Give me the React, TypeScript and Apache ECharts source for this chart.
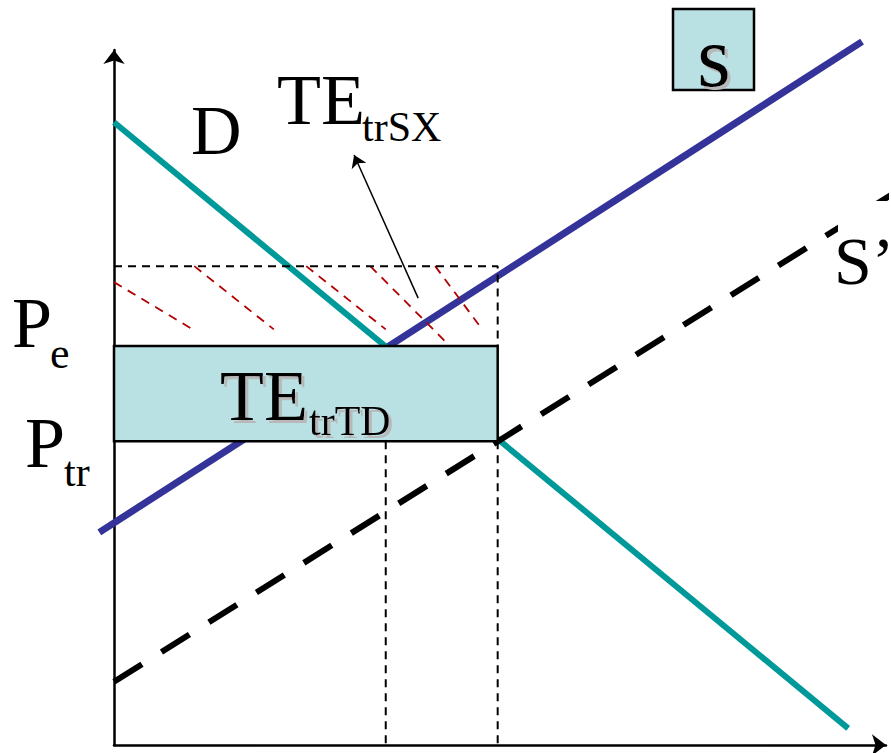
import React, { useEffect, useRef } from "react";
import * as echarts from "echarts";

// Curves (quantity 0-100 on x, price 0-100 on y)
const demandLine = [[0, 89.6], [95.1, 2.4]];
const supplyLine = [[-1.9, 30.6], [96.9, 101.2]];
const supplyShifted = [[0, 9.1], [100.6, 79.1]];
// Key levels
const qEquilibrium = 35.2;
const qTrade = 49.7;
const pEquilibrium = 57.4;
const pTrade = 43.7;
const pTop = 68.9;
// Hatching of the TE_trSX area
const hatchSegments = [
  [[0, 66.6], [10.2, 59.8]],
  [[10.4, 68.9], [20.7, 59.8]],
  [[24.9, 68.9], [35.2, 59.8]],
  [[33.2, 68.9], [43.5, 57.4]],
  [[41.6, 68.9], [47.7, 59.8]],
];
const arrowFrom = [39.4, 64.3];
const arrowTo = [31.1, 84.9];

const serif = "'Liberation Serif', 'Times New Roman', serif";
const boxFill = "#b9e0e3";

function txt(text: string, x: number, y: number, size: number, extra: any = {}) {
  return {
    type: "text",
    z: 100,
    style: {
      text,
      x,
      y,
      fontSize: size,
      fontFamily: serif,
      fill: "#000",
      align: "left",
      verticalAlign: "middle",
      ...extra,
    },
  };
}

const shadow = { textShadowColor: "#b8b8b8", textShadowOffsetX: 3, textShadowOffsetY: 3, textShadowBlur: 0.01 };

export default function App() {
  const ref = useRef<HTMLDivElement>(null);
  useEffect(() => {
    if (!ref.current) return;
    const chart = echarts.init(ref.current, null, { renderer: "svg" });
    const dashedGuide = (data: number[][]) => ({
      type: "line",
      data,
      symbol: "none",
      silent: true,
      z: 6,
      lineStyle: { color: "#000", width: 2, type: [8, 6] },
    });
    const option: any = {
      animation: false,
      backgroundColor: "#fff",
      grid: { left: 114, right: 5, top: 50, bottom: 8 },
      xAxis: {
        type: "value",
        min: 0,
        max: 100,
        axisLine: { show: true, lineStyle: { color: "#000", width: 2.5 }, symbol: ["none", "arrow"], symbolSize: [16, 14] },
        axisTick: { show: false },
        axisLabel: { show: false },
        splitLine: { show: false },
      },
      yAxis: {
        type: "value",
        min: 0,
        max: 100,
        axisLine: { show: true, onZero: false, lineStyle: { color: "#000", width: 2.5 }, symbol: ["none", "arrow"], symbolSize: [16, 14] },
        axisTick: { show: false },
        axisLabel: { show: false },
        splitLine: { show: false },
      },
      series: [
        {
          type: "line",
          data: supplyShifted,
          symbol: "none",
          clip: false,
          z: 3,
          lineStyle: { color: "#000", width: 6, type: [33, 23] },
        },
        {
          type: "line",
          data: demandLine,
          symbol: "none",
          clip: false,
          z: 2,
          lineStyle: { color: "#009999", width: 6 },
        },
        {
          type: "lines",
          coordinateSystem: "cartesian2d",
          clip: false,
          z: 2,
          lineStyle: { color: "#333399", width: 7, opacity: 1 },
          data: [{ coords: supplyLine }],
        },
        {
          type: "custom",
          z: 5,
          clip: false,
          data: [[0, pTrade, qTrade, pEquilibrium]],
          renderItem: (params: any, api: any) => {
            const p0 = api.coord([api.value(0), api.value(3)]);
            const p1 = api.coord([api.value(2), api.value(1)]);
            return {
              type: "rect",
              shape: { x: p0[0], y: p0[1], width: p1[0] - p0[0], height: p1[1] - p0[1] },
              style: { fill: boxFill, stroke: "#000", lineWidth: 2.5 },
            };
          },
        },
        dashedGuide([[0, pTop], [qTrade, pTop], [qTrade, pEquilibrium]]),
        dashedGuide([[qEquilibrium, pTrade], [qEquilibrium, 0]]),
        dashedGuide([[qTrade, pTrade], [qTrade, 0]]),
        ...hatchSegments.map((seg) => ({
          type: "line",
          data: seg,
          symbol: "none",
          clip: false,
          z: 4,
          lineStyle: { color: "#b00000", width: 1.8, type: [9, 7] },
        })),
        {
          type: "lines",
          coordinateSystem: "cartesian2d",
          z: 7,
          symbol: ["none", "arrow"],
          symbolSize: 12,
          lineStyle: { color: "#000", width: 1.5, opacity: 1 },
          data: [{ coords: [arrowFrom, arrowTo] }],
        },
      ],
      graphic: [
        {
          type: "rect",
          z: 95,
          shape: { x: 838, y: 201, width: 60, height: 99 },
          style: { fill: "#fff" },
        },
        txt("D", 191, 130.6, 70),
        txt("TE", 277, 100, 72),
        txt("trSX", 362, 127, 42),
        txt("TE", 220, 396, 72, shadow),
        txt("trTD", 309, 421, 42, shadow),
        txt("P", 12, 323, 72),
        txt("e", 50, 353, 44),
        txt("P", 25, 443, 72),
        txt("tr", 64, 472, 42),
        txt("S\u2019", 834, 261, 68),
        {
          type: "rect",
          z: 90,
          shape: { x: 673, y: 9, width: 81, height: 81 },
          style: { fill: boxFill, stroke: "#000", lineWidth: 2.5 },
        },
        txt("s", 714, 57, 86, { align: "center", ...shadow }),
      ],
    };
    chart.setOption(option);
    return () => chart.dispose();
  }, []);
  return (
    <div
      ref={ref}
      style={{ position: "fixed", left: 0, top: 0, width: 891, height: 753, background: "#fff" }}
    />
  );
}
